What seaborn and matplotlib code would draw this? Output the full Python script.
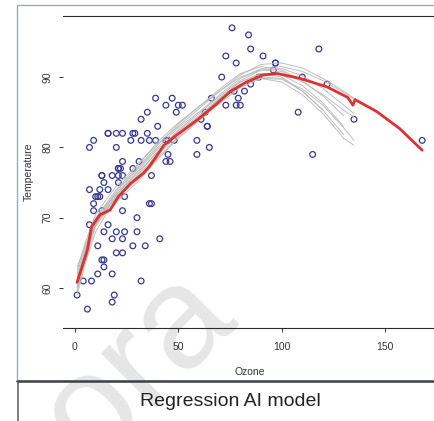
import numpy as np
import pandas as pd
import matplotlib
matplotlib.use("Agg")
import matplotlib.pyplot as plt
from matplotlib.patches import Rectangle
from matplotlib.lines import Line2D
import seaborn as sns

# airquality: Ozone vs Temp (rows with Ozone present)
ozone = [41, 36, 12, 18, 28, 23, 19, 8, 7, 16, 11, 14, 18, 14, 34, 6, 30, 11, 1, 11,
         4, 32, 23, 45, 115, 37, 29, 71, 39, 23, 21, 37, 20, 12, 13, 135, 49, 32, 64, 40,
         77, 97, 97, 85, 10, 27, 7, 48, 35, 61, 79, 63, 16, 80, 108, 20, 52, 82, 50, 64,
         59, 39, 9, 16, 78, 35, 66, 122, 89, 110, 44, 28, 65, 22, 59, 23, 31, 44, 21, 9,
         45, 168, 73, 76, 118, 84, 85, 96, 78, 73, 91, 47, 32, 20, 23, 21, 24, 44, 21, 28,
         9, 13, 46, 18, 13, 24, 16, 13, 23, 36, 7, 14, 30, 14, 18, 20]
temp = [67, 72, 74, 62, 66, 65, 59, 61, 74, 69, 66, 68, 58, 64, 66, 57, 68, 62, 59, 73,
        61, 61, 67, 81, 79, 76, 82, 90, 87, 82, 77, 72, 65, 73, 76, 84, 85, 81, 83, 83,
        88, 92, 92, 89, 73, 81, 80, 81, 82, 84, 87, 85, 74, 86, 85, 82, 86, 88, 86, 83,
        81, 81, 81, 82, 86, 85, 87, 89, 90, 90, 86, 82, 80, 77, 79, 76, 78, 78, 77, 72,
        79, 81, 86, 97, 94, 96, 94, 91, 92, 93, 93, 87, 84, 80, 78, 75, 73, 81, 76, 77,
        71, 71, 78, 67, 76, 68, 82, 64, 71, 81, 69, 63, 70, 75, 76, 68]

# main smooth (red)
fit_x = [1, 6, 8, 12, 17, 21, 27, 33, 36, 41, 43, 48, 60, 69, 75, 83, 91, 98, 109,
         122, 132, 134.5, 135.5, 146, 157, 168]
fit_y = [60.8, 65.4, 68.7, 70.4, 71.1, 73.0, 74.9, 76.3, 77.3, 79.4, 80.3, 81.5, 84.1,
         86.3, 87.9, 89.3, 90.3, 90.5, 89.8, 88.6, 87.1, 86.0, 86.8, 85.1, 82.7, 79.6]

# bootstrap smooths (grey)
boot_x = [1, 5, 10, 15, 20, 30, 40, 50, 60, 70, 80, 90, 100, 110, 120, 130, 135]
boot_1 = [62.5, 66.5, 70.5, 72.5, 74.5, 77.5, 80.5, 83.0, 85.5, 88.0, 90.3, 91.8, 92.0, 91.3, 89.8, 88.0, 87.0]
boot_2 = [60.0, 64.5, 69.0, 71.0, 73.0, 76.0, 79.5, 82.5, 84.8, 87.3, 89.5, 91.0, 91.2, 90.2, 88.4, 86.0, 84.8]
boot_3 = [59.0, 63.5, 68.0, 70.5, 72.3, 75.0, 78.3, 81.3, 83.8, 86.3, 88.5, 89.8, 89.7, 88.3, 86.0, 82.8, 81.0]
boot_4 = [61.5, 65.5, 69.8, 71.8, 73.5, 76.8, 80.0, 82.8, 85.0, 87.5, 89.8, 91.2, 91.5, 90.8, 89.5, 87.8, 86.9]
boot_5 = [63.0, 66.0, 69.0, 71.5, 73.8, 77.0, 80.3, 83.3, 85.8, 88.3, 90.5, 91.5, 91.0, 89.5, 87.3, 84.5]
boot_6 = [60.5, 65.0, 69.5, 71.3, 72.8, 75.3, 78.5, 81.5, 84.0, 86.8, 89.0, 89.8, 89.3, 87.5, 84.8, 81.3, 80.3]
boot_7 = [61.0, 65.3, 69.3, 71.0, 73.2, 76.3, 79.3, 82.3, 84.5, 87.0, 89.3, 90.5, 90.3, 88.8, 86.3, 83.0]
boot_8 = [59.5, 64.0, 68.8, 70.8, 72.5, 75.8, 79.0, 81.8, 84.3, 86.8, 89.0, 90.0, 89.8, 88.0, 85.3]
boot_9 = [62.0, 66.0, 70.0, 72.0, 74.0, 77.3, 80.8, 83.5, 85.8, 88.0, 90.0, 91.0, 90.8, 89.3, 87.5, 85.3, 84.3]
boot_10 = [60.0, 64.8, 69.3, 71.5, 73.3, 76.5, 79.8, 82.0, 84.3, 87.0, 89.3, 90.5, 90.0, 88.0, 85.3, 81.8]
boot_curves = [boot_1, boot_2, boot_3, boot_4, boot_5, boot_6, boot_7, boot_8, boot_9, boot_10]

x_ticks = [0, 50, 100, 150]
y_ticks = [60, 70, 80, 90]

sns.set_style("white")
plt.rcParams['font.family'] = ['Liberation Sans', 'DejaVu Sans']

W, H = 435, 421
fig = plt.figure(figsize=(W / 100, H / 100), dpi=100)

# watermark (cut by the lower edge, as in the source)
fig.text(138 / W, 1 - 366 / H, 'ora', rotation=45, fontsize=104,
         color='#e6e6e6', ha='center', va='center', zorder=-5)

ax = fig.add_axes([63.3 / W, 1 - 328.3 / H, (436 - 63.3) / W, (328.3 - 15.7) / H])
ax.patch.set_alpha(0)

pts = pd.DataFrame({'Ozone': ozone, 'Temperature': temp})
sns.scatterplot(data=pts, x='Ozone', y='Temperature', ax=ax, s=17, marker='o',
                facecolors='none', edgecolor='#363a90', linewidth=0.9, zorder=2)

rows = []
for k, ys in enumerate(boot_curves):
    for xv, yv in zip(boot_x, ys):
        rows.append((k, xv, yv))
boot = pd.DataFrame(rows, columns=['run', 'Ozone', 'Temperature'])
sns.lineplot(data=boot, x='Ozone', y='Temperature', units='run', estimator=None,
             color='#b8b8b8', linewidth=0.7, alpha=0.9, ax=ax, zorder=3, sort=False)

fit = pd.DataFrame({'Ozone': fit_x, 'Temperature': fit_y})
sns.lineplot(data=fit, x='Ozone', y='Temperature', estimator=None, sort=False,
             color='#e03131', linewidth=2.0, ax=ax, zorder=4)

ax.set_xlim(-5.66, 174.7)
ax.set_ylim(54.27, 98.73)
ax.set_xticks(x_ticks)
ax.set_yticks(y_ticks)
ax.set_xticklabels([str(v) for v in x_ticks])
ax.set_yticklabels([str(v) for v in y_ticks], rotation=90, va='center')
ax.tick_params(axis='both', direction='out', length=3, width=0.7, color='#333333',
               labelsize=7.5, labelcolor='#333333')
ax.tick_params(axis='x', pad=7, bottom=True)
ax.tick_params(axis='y', pad=5, left=True)
for side in ['left', 'right']:
    ax.spines[side].set_visible(False)
for side in ['top', 'bottom']:
    ax.spines[side].set_color('#2b2b2b')
    ax.spines[side].set_linewidth(0.8)
ax.set_xlabel('Ozone', fontsize=7.5, color='#333333', labelpad=11)
ax.set_ylabel('Temperature', fontsize=7.5, color='#333333', labelpad=6)

# outer frame and caption box
fig.add_artist(Rectangle((17 / W, 1 - 381 / H), (440 - 17) / W, (381 - 5) / H,
                         transform=fig.transFigure, fill=False, edgecolor='#a3a9b0',
                         linewidth=1.0, zorder=6))
fig.add_artist(Line2D([17 / W, 1], [1 - 381 / H, 1 - 381 / H], transform=fig.transFigure,
                      color='#3c4248', linewidth=1.8, zorder=7))
fig.add_artist(Line2D([18 / W, 18 / W], [0, 1 - 381 / H], transform=fig.transFigure,
                      color='#55595e', linewidth=1.1, zorder=7))
fig.text(230 / W, 1 - 401 / H, 'Regression AI model', fontsize=14, color='#222222',
         ha='center', va='center')

fig.savefig('out.png', dpi=100)
